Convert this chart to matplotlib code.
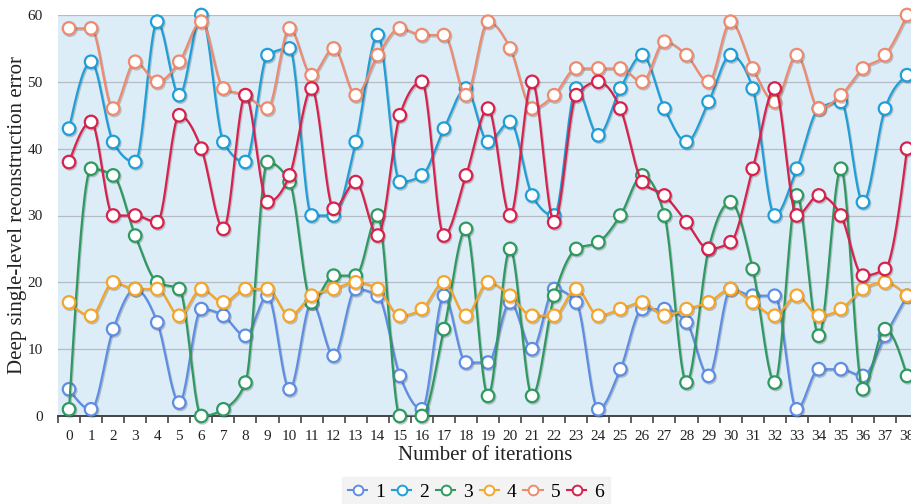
import numpy as np
import matplotlib
matplotlib.use("Agg")
import matplotlib.pyplot as plt
import matplotlib.patheffects as pe

iterations = list(range(39))
s1 = [4, 1, 13, 19, 14, 2, 16, 15, 12, 18, 4, 17, 9, 19, 18, 6, 1, 18, 8, 8,
      17, 10, 19, 17, 1, 7, 16, 16, 14, 6, 19, 18, 18, 1, 7, 7, 6, 12, 18]
s2 = [43, 53, 41, 38, 59, 48, 60, 41, 38, 54, 55, 30, 30, 41, 57, 35, 36, 43, 49, 41,
      44, 33, 30, 49, 42, 49, 54, 46, 41, 47, 54, 49, 30, 37, 46, 47, 32, 46, 51]
s3 = [1, 37, 36, 27, 20, 19, 0, 1, 5, 38, 35, 17, 21, 21, 30, 0, 0, 13, 28, 3,
      25, 3, 18, 25, 26, 30, 36, 30, 5, 25, 32, 22, 5, 33, 12, 37, 4, 13, 6]
s4 = [17, 15, 20, 19, 19, 15, 19, 17, 19, 19, 15, 18, 19, 20, 19, 15, 16, 20, 15, 20,
      18, 15, 15, 19, 15, 16, 17, 15, 16, 17, 19, 17, 15, 18, 15, 16, 19, 20, 18]
s5 = [58, 58, 46, 53, 50, 53, 59, 49, 48, 46, 58, 51, 55, 48, 54, 58, 57, 57, 48, 59,
      55, 46, 48, 52, 52, 52, 50, 56, 54, 50, 59, 52, 47, 54, 46, 48, 52, 54, 60]
s6 = [38, 44, 30, 30, 29, 45, 40, 28, 48, 32, 36, 49, 31, 35, 27, 45, 50, 27, 36, 46,
      30, 50, 29, 48, 50, 46, 35, 33, 29, 25, 26, 37, 49, 30, 33, 30, 21, 22, 40]
series_names = ["1", "2", "3", "4", "5", "6"]
series = [s1, s2, s3, s4, s5, s6]
colors = ["#5e8ee4", "#1f9fd8", "#2e9a60", "#f5a52a", "#ef8a6e", "#d9214d"]


def monotone_curve(x, y, n=24):
    """d3 curveMonotoneX style interpolation (Steffen)."""
    x = np.asarray(x, float)
    y = np.asarray(y, float)
    m = len(x)
    h = np.diff(x)
    s = np.diff(y) / h
    t = np.zeros(m)
    for i in range(1, m - 1):
        h0, h1 = h[i - 1], h[i]
        s0, s1_ = s[i - 1], s[i]
        p = (s0 * h1 + s1_ * h0) / (h0 + h1)
        t[i] = (np.sign(s0) + np.sign(s1_)) * min(abs(s0), abs(s1_), 0.5 * abs(p))
    t[0] = (3 * s[0] - t[1]) / 2
    t[-1] = (3 * s[-1] - t[-2]) / 2
    xs, ys = [], []
    for i in range(m - 1):
        u = np.linspace(0, 1, n, endpoint=(i == m - 2))
        hh = h[i]
        h00 = 2 * u**3 - 3 * u**2 + 1
        h10 = u**3 - 2 * u**2 + u
        h01 = -2 * u**3 + 3 * u**2
        h11 = u**3 - u**2
        xs.append(x[i] + u * hh)
        ys.append(h00 * y[i] + h10 * hh * t[i] + h01 * y[i + 1] + h11 * hh * t[i + 1])
    return np.concatenate(xs), np.concatenate(ys)


plt.rcParams['font.family'] = ['Liberation Serif', 'DejaVu Serif']

fig = plt.figure(figsize=(9.12, 5.04), dpi=100)
W, H = 912, 504
left, right, top, bottom = 58, 912, 15, 416
ax = fig.add_axes([left / W, 1 - bottom / H, (right - left) / W, (bottom - top) / H])
ax.set_facecolor("#ddedf8")

shadow = [pe.SimpleLineShadow(offset=(0.8, -1.0), alpha=0.25, shadow_color="#333333"), pe.Normal()]

handles = []
for k, (name, vals, c) in enumerate(zip(series_names, series, colors)):
    cx, cy = monotone_curve(iterations, vals)
    ax.plot(cx, cy, color=c, lw=1.6, zorder=3 + k * 0.1, solid_capstyle="round",
            path_effects=shadow, clip_on=True)
    ax.plot(iterations, vals, linestyle="none", marker="o", markersize=9,
            markerfacecolor="white", markeredgecolor=c, markeredgewidth=1.6,
            zorder=3.05 + k * 0.1, path_effects=shadow, clip_on=False)
    h, = ax.plot([], [], color=c, lw=1.5, marker="o", markersize=7,
                 markerfacecolor="white", markeredgecolor=c, markeredgewidth=1.4)
    handles.append(h)

x0 = (left - 68) / 22.08
x1 = (right - 68) / 22.08
ax.set_xlim(x0, x1)
ax.set_ylim(0, 60)
ax.set_yticks([0, 10, 20, 30, 40, 50, 60])
ax.set_xticks(iterations)
ax.set_xticks(np.arange(-0.5, 38.5, 1.0), minor=True)
ax.tick_params(axis="x", which="major", length=0, labelsize=11, pad=10, colors="#222222")
ax.tick_params(axis="x", which="minor", length=5, width=1.2, color="#444444", direction="out")
ax.tick_params(axis="y", which="major", length=0, labelsize=11, pad=11, colors="#222222")
ax.grid(axis="y", color="#b5bcc4", lw=0.9)
ax.set_axisbelow(True)
for sp in ["top", "right", "left"]:
    ax.spines[sp].set_visible(False)
ax.spines["bottom"].set_color("#444444")
ax.spines["bottom"].set_linewidth(1.4)

ax.set_xlabel("Number of iterations", fontsize=15, color="#222222", labelpad=2)
ax.set_ylabel("Deep single-level reconstruction error", fontsize=15, color="#222222")
ax.yaxis.set_label_coords((27 - left) / (right - left), 0.5)

leg = fig.legend(handles, series_names, loc="center", bbox_to_anchor=(476 / W, 1 - 492 / H),
                 ncol=6, frameon=True, fontsize=14, handlelength=1.0, handletextpad=0.4,
                 columnspacing=0.35, borderpad=0.3, fancybox=False)
leg.get_frame().set_facecolor("#f1f1f1")
leg.get_frame().set_edgecolor("#f1f1f1")

fig.savefig("out.png", dpi=100)
